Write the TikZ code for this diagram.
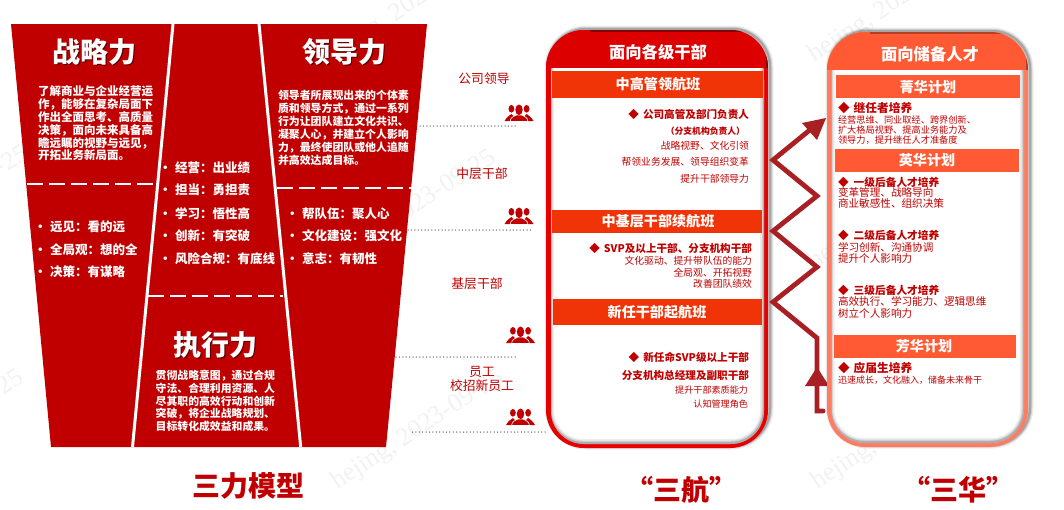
\documentclass[tikz,border=0pt]{standalone}
\usepackage{fontspec}
\setmainfont{Noto Sans CJK SC}
\newfontfamily\markfont{Liberation Serif}
\definecolor{modelred}{HTML}{C00000}
\definecolor{hangred}{HTML}{E60000}
\definecolor{hanghead}{HTML}{DD0000}
\definecolor{hangbar}{HTML}{F03407}
\definecolor{huaedge}{HTML}{FF7C62}
\definecolor{huabar}{HTML}{FF5A33}
\definecolor{zigred}{HTML}{A81F24}
\newcommand{\pxfont}[2]{\fontsize{#1}{#2}\selectfont}
\tikzset{
	every node/.style={inner sep=0pt,outer sep=0pt},
	dashline/.style={white,line width=1.5pt,dash pattern=on 16pt off 6pt},
	divider/.style={white,line width=3pt},
	dotline/.style={black!55,line width=1.5pt,line cap=round,dash pattern=on 0pt off 3.4pt},
	whitepara/.style={white,anchor=north west,align=left,font=\bfseries},
	listitem/.style={white,anchor=west,font=\bfseries\pxfont{12.5}{14}},
	levelname/.style={modelred,font=\pxfont{12.8}{14.5},align=center},
	caption/.style={modelred,font=\bfseries\pxfont{28}{32}},
	headtext/.style={white,font=\bfseries\pxfont{16.3}{18}},
	bartext/.style={white,font=\bfseries\pxfont{14.1}{16}},
	redline/.style={modelred,anchor=east,font=\pxfont{9.8}{11}},
	redbold/.style={modelred,anchor=east,font=\bfseries\pxfont{10.6}{12}},
	hualine/.style={modelred,anchor=west,font=\pxfont{10.6}{12}},
	huabold/.style={modelred,anchor=west,font=\bfseries\pxfont{10.7}{12}},
	watermark/.style={gray!10,rotate=33,font=\markfont\pxfont{26}{28}},
	people/.pic={
		\fill[modelred] (-7.6,-4.2) ellipse (2.9 and 3.8);
		\fill[modelred] (7.6,-4.2) ellipse (2.9 and 3.8);
		\fill[modelred] (-14.5,8) .. controls (-12,3.5) and (-10,3) .. (-7.6,1) .. controls (-5,3) and (-4,4) .. (-3,8) -- cycle;
		\fill[modelred] (14.5,8) .. controls (12,3.5) and (10,3) .. (7.6,1) .. controls (5,3) and (4,4) .. (3,8) -- cycle;
		\draw[white,line width=0.6pt,fill=modelred] (-9,8.5) .. controls (-8.5,4) and (-5,3.5) .. (-2.6,2) -- (2.6,2) .. controls (5,3.5) and (8.5,4) .. (9,8.5) -- cycle;
		\fill[modelred] (0,-3.2) ellipse (3.7 and 5.3);
	}
}
\begin{document}
\begin{tikzpicture}[x=1pt,y=-1pt]
	\useasboundingbox (0,0) rectangle (1064,509);
	\fill[white] (0,0) rectangle (1064,509);

	% faint marks behind everything
	\foreach \i/\px/\py in {1/-57/206,2/-62/430,3/410/5,4/410/210,5/418/430,6/895/3,7/895/210,8/898/430}
		\node[watermark] (mark\i) at (\px,\py) {hejing, 2023-09-25};

	% three forces
	\fill[modelred] (11,24) -- (427,24) -- (386,447) -- (51,447) -- cycle;
	\coordinate (divAtop) at (173,24);
	\coordinate (divAbot) at (132.5,447);
	\coordinate (divBtop) at (259,24);
	\coordinate (divBbot) at (300.7,447);
	\draw[divider] (divAtop) -- (divAbot);
	\draw[divider] (divBtop) -- (divBbot);
	\draw[dashline] (27,184) -- (153,184);
	\draw[dashline] (277,188) -- (412,188);
	\draw[dashline] (147.5,296) -- (283,296);

	\foreach \n/\px/\py/\t in {strategy/94/52/战略力,lead/344/52/领导力,execute/215/345/执行力}{
		\node[black!55!modelred,font=\bfseries\pxfont{28}{30}] (\n shade) at (\px+1.3,\py+1.3) {\t};
		\node[white,font=\bfseries\pxfont{28}{30}] (\n) at (\px,\py) {\t};
	}

	\node[whitepara,font=\bfseries\pxfont{11.5}{12.9}] (strategytext) at (38,85.5) {了解商业与企业经营运\\作，能够在复杂局面下\\作出全面思考、高质量\\决策，面向未来具备高\\瞻远瞩的视野与远见，\\开拓业务新局面。};
	\node[whitepara,font=\bfseries\pxfont{10.9}{13}] (leadtext) at (278,90) {领导者所展现出来的个体素\\质和领导方式，通过一系列\\行为让团队建立文化共识、\\凝聚人心，并建立个人影响\\力，最终使团队或他人追随\\并高效达成目标。};
	\node[whitepara,font=\bfseries\pxfont{10.85}{12.8}] (executetext) at (155.7,370) {贯彻战略意图，通过合规\\守法、合理利用资源、人\\尽其职的高效行动和创新\\突破，将企业战略规划、\\目标转化成效益和成果。};

	\foreach \i/\py/\t in {1/227/远见：看的远,2/250/全局观：想的全,3/272/决策：有谋略}
		\node[listitem] (lefta\i) at (34,\py) {\makebox[16pt][l]{•}\t};
	\foreach \i/\py/\t in {1/168/经营：出业绩,2/190/担当：勇担责,3/213.5/学习：悟性高,4/236/创新：有突破,5/259/风险合规：有底线}
		\node[listitem] (midb\i) at (159,\py) {\makebox[16pt][l]{•}\t};
	\foreach \i/\py/\t in {1/214/帮队伍：聚人心,2/236/文化建设：强文化,3/259/意志：有韧性}
		\node[listitem] (rightc\i) at (286,\py) {\makebox[16pt][l]{•}\t};

	% levels
	\node[levelname] (levelA) at (484,79) {公司领导};
	\node[levelname] (levelB) at (482,174) {中层干部};
	\node[levelname] (levelC) at (477,284) {基层干部};
	\node[levelname] (levelD) at (482,372) {员工};
	\node[levelname] (levelE) at (482,386) {校招新员工};
	\coordinate (dotAa) at (420,126);
	\coordinate (dotAb) at (517,126);
	\coordinate (dotBa) at (408,230);
	\coordinate (dotBb) at (533,230);
	\coordinate (dotCa) at (396,357);
	\coordinate (dotCb) at (516,357);
	\coordinate (dotDa) at (412.5,432);
	\coordinate (dotDb) at (548,432);
	\draw[dotline] (dotAa) -- (dotAb);
	\draw[dotline] (dotBa) -- (dotBb);
	\draw[dotline] (dotCa) -- (dotCb);
	\draw[dotline] (dotDa) -- (dotDb);
	\pic at (519,113) {people};
	\pic at (519,216) {people};
	\pic at (520.5,335) {people};
	\pic at (520.5,417) {people};

	% middle card
	\foreach \w/\o in {7/0.07,4.5/0.12,2.5/0.2}
		\draw[black,opacity=\o,line width=\w pt,rounded corners=38] (548,29) rectangle (770,446);
	\fill[hangred,rounded corners=38] (546,30) rectangle (768,448);
	\fill[white,rounded corners=33] (551,40) rectangle (764,444);
	\begin{scope}
		\clip[rounded corners=33] (551,40) rectangle (764,444);
		\foreach \w/\o in {8/0.07,5/0.1,2.5/0.18}
			\draw[black,opacity=\o,line width=\w pt,rounded corners=33] (550,38) rectangle (764,443);
	\end{scope}
	\begin{scope}
		\clip[rounded corners=38] (546,30) rectangle (768,448);
		\fill[hanghead] (546,30) rectangle (768,68);
		\draw[black!40!hanghead,line width=2pt] (590,31) -- (767,31) -- (767,68);
		\fill[hangred] (763.5,68) rectangle (768,80);
	\end{scope}
	\node[headtext] (hanghead) at (658,52) {面向各级干部};
	\fill[hangbar] (552,71) rectangle (763,98);
	\fill[hangbar] (552,210) rectangle (762,233);
	\fill[hangbar] (553,299) rectangle (762,325);
	\node[bartext] (hangbarA) at (658,84) {中高管领航班};
	\node[bartext] (hangbarB) at (658,221) {中基层干部续航班};
	\node[bartext] (hangbarC) at (657,312) {新任干部起航班};

	\node[redbold] (seniorA) at (749,114) {◆\hspace{4pt}公司高管及部门负责人};
	\node[redbold,font=\bfseries\pxfont{8.8}{10}] (seniorB) at (745,131) {（分支机构负责人）};
	\node[redline] (seniorC) at (749,146) {战略视野、文化引领};
	\node[redline] (seniorD) at (749,162) {帮领业务发展、领导组织变革};
	\node[redline] (seniorE) at (749,179) {提升干部领导力};
	\node[redbold] (middleA) at (752,248) {◆\hspace{4pt}SVP及以上干部、分支机构干部};
	\node[redline] (middleB) at (752,261) {文化驱动、提升带队伍的能力};
	\node[redline] (middleC) at (752,273) {全局观、开拓视野};
	\node[redline] (middleD) at (752,284) {改善团队绩效};
	\node[redbold] (newA) at (749,357) {◆\hspace{4pt}新任命SVP级以上干部};
	\node[redbold] (newB) at (749,375) {分支机构总经理及副职干部};
	\node[redline,font=\pxfont{9.1}{11}] (newC) at (748,390) {提升干部素质能力};
	\node[redline,font=\pxfont{9.1}{11}] (newD) at (748,404) {认知管理角色};

	% rising arrow
	\coordinate (zigA) at (823,411);
	\coordinate (zigB) at (817,411);
	\coordinate (zigC) at (817,338);
	\coordinate (zigD) at (773,302);
	\coordinate (zigE) at (817,267);
	\coordinate (zigF) at (773,231);
	\coordinate (zigG) at (817,196);
	\coordinate (zigH) at (773,160);
	\coordinate (zigI) at (811,129);
	\draw[zigred,line width=4.8pt,line cap=round] (zigA) -- (zigB) -- (zigC) -- (zigD) -- (zigE) -- (zigF) -- (zigG) -- (zigH) -- (zigI);
	\fill[zigred] (817,367) -- (829,386) -- (805,386) -- cycle;
	\fill[zigred] (826,118) -- (817,140) -- (802,123) -- cycle;

	% right card
	\foreach \w/\o in {7/0.07,4.5/0.12,2.5/0.2}
		\draw[black,opacity=\o,line width=\w pt,rounded corners=38] (829,31) rectangle (1030,445);
	\fill[huaedge,rounded corners=38] (827,32) rectangle (1028,447);
	\fill[white,rounded corners=33] (831.5,42) rectangle (1024,443);
	\begin{scope}
		\clip[rounded corners=33] (831.5,42) rectangle (1024,443);
		\foreach \w/\o in {8/0.07,5/0.1,2.5/0.18}
			\draw[black,opacity=\o,line width=\w pt,rounded corners=33] (830.5,40) rectangle (1024,442);
	\end{scope}
	\begin{scope}
		\clip[rounded corners=38] (827,32) rectangle (1028,447);
		\fill[huabar] (827,32) rectangle (1028,70);
		\draw[black!30!huabar,line width=2pt] (870,33) -- (1027,33) -- (1027,70);
		\fill[huaedge] (1024,70) rectangle (1028,80);
	\end{scope}
	\node[headtext] (huahead) at (930,54) {面向储备人才};
	\fill[huabar] (836,75) rectangle (1020,98);
	\fill[huabar] (835,149) rectangle (1019,172);
	\fill[huabar] (834,335) rectangle (1016,358);
	\node[bartext] (huabarA) at (928,87) {菁华计划};
	\node[bartext] (huabarB) at (927,160) {英华计划};
	\node[bartext] (huabarC) at (924,346) {芳华计划};

	\node[huabold,font=\bfseries\pxfont{11.7}{13}] (jingA) at (838,108) {◆\hspace{4pt}继任者培养};
	\node[hualine,font=\pxfont{9.2}{11}] (jingB) at (838,120) {经营思维、同业取经、跨界创新、};
	\node[hualine,font=\pxfont{9.2}{11}] (jingC) at (838,130) {扩大格局视野、提高业务能力及};
	\node[hualine,font=\pxfont{9.2}{11}] (jingD) at (838,140) {领导力，提升继任人才准备度};
	\node[huabold] (yingA) at (838,182) {◆\hspace{5pt}一级后备人才培养};
	\node[hualine] (yingB) at (838,192) {变革管理、战略导向};
	\node[hualine] (yingC) at (838,203) {商业敏感性、组织决策};
	\node[huabold] (yingD) at (838,235) {◆\hspace{5pt}二级后备人才培养};
	\node[hualine] (yingE) at (838,247) {学习创新、沟通协调};
	\node[hualine] (yingF) at (838,258) {提升个人影响力};
	\node[huabold] (yingG) at (838,290) {◆\hspace{5pt}三级后备人才培养};
	\node[hualine] (yingH) at (838,301) {高效执行、学习能力、逻辑思维};
	\node[hualine] (yingI) at (838,313) {树立个人影响力};
	\node[huabold,font=\bfseries\pxfont{11.7}{13}] (fangA) at (838,368) {◆\hspace{4pt}应届生培养};
	\node[hualine,font=\pxfont{9}{11}] (fangB) at (838,380) {迅速成长，文化融入，储备未来骨干};

	% captions
	\node[caption] (captionA) at (248,486) {三力模型};
	\node[caption] (captionB) at (681,490) {“三航”};
	\node[caption] (captionC) at (958,490) {“三华”};
\end{tikzpicture}
\end{document}
